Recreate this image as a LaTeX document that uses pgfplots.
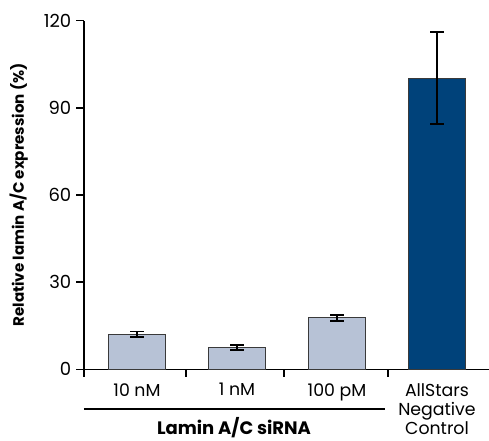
\documentclass[border=0pt]{standalone}
\usepackage{pgfplots}
\pgfplotsset{compat=1.18}
\usepackage{fontspec}
\setmainfont{Poppins}
\definecolor{lightbar}{HTML}{B7C2D6}
\definecolor{darkbar}{HTML}{00427A}
\definecolor{edge}{HTML}{3A3A3A}
\begin{document}
\begin{tikzpicture}
\begin{axis}[
  scale only axis, width=303.75pt, height=261.45pt,
  xmin=-0.53, xmax=3.52, ymin=0, ymax=120,
  axis lines*=left,
  axis line style={line width=1.1pt},
  ytick={0,30,60,90,120},
  yticklabel style={font=\fontsize{13.5}{14}\selectfont},
  /pgf/number format/assume math mode=true,
  tick align=outside, major tick length=6pt,
  tick style={draw=none},
  xtick={-0.53,0.49,1.47,2.51},
  xticklabels={},
  extra x ticks={0,1,2,3},
  extra x tick labels={10 nM,1 nM,100 pM,{AllStars\\Negative\\Control}},
  extra x tick style={major tick length=0pt,
    xticklabel style={font=\fontsize{13}{14.3}\selectfont, align=center, anchor=north, yshift=-7pt}},
  ylabel={\bfseries Relative lamin A/C expression (\%)},
  ylabel style={font=\fontsize{11.3}{12}\selectfont, at={(axis description cs:-0.161,0.5)}, anchor=center},
  clip=false,
  bar width=0.57,
]
\addplot[ybar, fill=lightbar, draw=edge, line width=0.9pt,
  error bars/.cd, y dir=both, y explicit,
  error bar style={line width=1.4pt,black}, error mark options={line width=1.4pt,black,mark size=5pt,rotate=90}]
  coordinates {(0,12.05) +- (0,0.95) (1,7.6) +- (0,0.9) (2,17.7) +- (0,1.1)};
\addplot[ybar, fill=darkbar, draw=edge, line width=0.9pt,
  error bars/.cd, y dir=both, y explicit,
  error bar style={line width=1.4pt,black}, error mark options={line width=1.4pt,black,mark size=5pt,rotate=90}]
  coordinates {(3,100) += (0,16.1) -= (0,15.6)};
% y axis line and ticks
\draw[line width=1.1pt] (rel axis cs:0,0) -- (rel axis cs:0,1);
\pgfplotsinvokeforeach{0,30,60,90,120}{
  \draw[line width=1.1pt] (axis cs:-0.53,#1) -- (axis cs:-0.61,#1);
}
\pgfplotsinvokeforeach{-0.53,0.49,1.47,2.51}{
  \draw[line width=1.1pt] (axis cs:#1,0) -- (axis cs:#1,-2.8);
}
\draw[line width=1.1pt] (axis cs:-0.53,-13.7) -- (axis cs:2.48,-13.7);
\node[font=\bfseries\fontsize{13.5}{14}\selectfont, anchor=base] at (axis cs:0.97,-22.4) {Lamin A/C siRNA};
\coordinate (ll) at (rel axis cs:-0.2074,-0.2028);
\coordinate (ur) at (rel axis cs:1.0,1.0594);
\end{axis}
\pgfresetboundingbox
\path[use as bounding box] (ll) rectangle (ur);
\end{tikzpicture}
\end{document}
